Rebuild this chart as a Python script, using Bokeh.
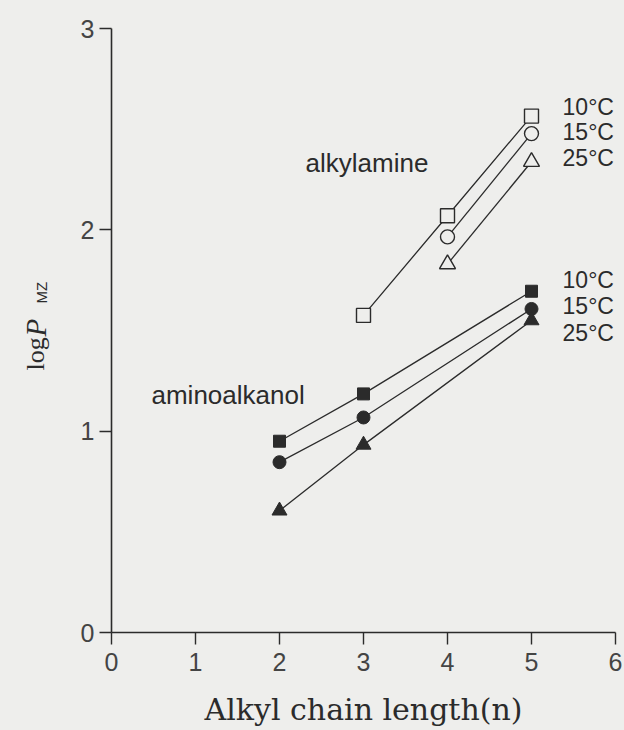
import math
from bokeh.plotting import figure
from bokeh.layouts import row
from bokeh.models import Label, Range1d, FixedTicker
from bokeh.embed import file_html
from bokeh.resources import INLINE

# ---- data ----
n_amine_10 = [3, 4, 5]
amine_10 = [1.575, 2.07, 2.565]
n_amine_15 = [4, 5]
amine_15 = [1.965, 2.478]
n_amine_25 = [4, 5]
amine_25 = [1.83, 2.338]

n_alkanol = [2, 3, 5]
alkanol_10 = [0.95, 1.185, 1.695]
alkanol_15 = [0.846, 1.068, 1.607]
alkanol_25 = [0.605, 0.932, 1.55]

x_ticks = [0, 1, 2, 3, 4, 5, 6]
y_ticks = [0, 1, 2, 3]
temp_labels = ["10°C", "15°C", "25°C"]

bg = "#eeeeec"
ink = "#2b2b2b"
LEFT_W = 60
H = 730
TOP, BOTTOM = 28, 98

# ---- main chart ----
p = figure(width=624 - LEFT_W, height=H, output_backend="svg", toolbar_location=None,
           x_range=Range1d(0, 6), y_range=Range1d(0, 3),
           min_border_left=111 - LEFT_W, min_border_right=9, min_border_top=TOP,
           min_border_bottom=BOTTOM)
p.outline_line_color = None
p.grid.visible = False
p.background_fill_color = bg
p.border_fill_color = bg

p.xaxis.ticker = FixedTicker(ticks=x_ticks)
p.yaxis.ticker = FixedTicker(ticks=y_ticks)
for ax in (p.xaxis, p.yaxis):
    ax.major_tick_out = 12
    ax.major_tick_in = 0
    ax.minor_tick_out = 0
    ax.minor_tick_in = 0
    ax.axis_line_width = 1.6
    ax.axis_line_color = ink
    ax.major_tick_line_color = ink
    ax.major_tick_line_width = 1.4
    ax.major_label_text_font = "Liberation Sans"
    ax.major_label_text_font_size = "25px"
    ax.major_label_text_color = "#444444"
p.xaxis.major_label_standoff = 8
p.yaxis.major_label_standoff = 5

p.xaxis.axis_label = "Alkyl chain length(n)"
p.xaxis.axis_label_text_font = "DejaVu Serif"
p.xaxis.axis_label_text_font_style = "normal"
p.xaxis.axis_label_text_font_size = "30px"
p.xaxis.axis_label_text_color = ink
p.xaxis.axis_label_standoff = 18

line_kw = dict(line_color=ink, line_width=1.3)
open_kw = dict(line_color=ink, line_width=1.4, fill_color=bg)
fill_kw = dict(line_color=ink, line_width=1, fill_color=ink)

# alkylamine (open symbols)
p.line(n_amine_10, amine_10, **line_kw)
p.line(n_amine_15, amine_15, **line_kw)
p.line(n_amine_25, amine_25, **line_kw)
p.scatter(n_amine_10, amine_10, marker="square", size=14, **open_kw)
p.scatter(n_amine_15, amine_15, marker="circle", size=14, **open_kw)
p.scatter(n_amine_25, amine_25, marker="triangle", size=16, **open_kw)

# aminoalkanol (filled symbols)
p.line(n_alkanol, alkanol_10, **line_kw)
p.line(n_alkanol, alkanol_15, **line_kw)
p.line(n_alkanol, alkanol_25, **line_kw)
p.scatter(n_alkanol, alkanol_10, marker="square", size=12, **fill_kw)
p.scatter(n_alkanol, alkanol_15, marker="circle", size=13, **fill_kw)
p.scatter(n_alkanol, alkanol_25, marker="triangle", size=15, **fill_kw)


def lab(fig, x, y, text, size, font="Liberation Sans", style="normal", angle=0.0):
    fig.add_layout(Label(x=x, y=y, text=text, text_font=font, text_font_size=size,
                         text_font_style=style, text_color=ink, angle=angle,
                         text_align="left", text_baseline="alphabetic"))


lab(p, 2.31, 2.332, "alkylamine", "26px")
lab(p, 0.476, 1.181, "aminoalkanol", "26px")
for t, yy in zip(temp_labels, [2.611, 2.486, 2.357]):
    lab(p, 5.37, yy, t, "23px")
for t, yy in zip(temp_labels, [1.749, 1.624, 1.490]):
    lab(p, 5.37, yy, t, "23px")

# ---- narrow strip holding the y-axis title: log P_MZ ----
# its frame is aligned with the main frame by the row, so map page pixels directly
ly = figure(width=LEFT_W, height=H, output_backend="svg", toolbar_location=None,
            x_range=Range1d(0, LEFT_W), y_range=Range1d(BOTTOM, H - TOP),
            x_axis_location=None, y_axis_location=None,
            min_border_left=0, min_border_right=0, min_border_top=TOP,
            min_border_bottom=BOTTOM)
ly.outline_line_color = None
ly.grid.visible = False
ly.background_fill_color = bg
ly.border_fill_color = bg

up = math.pi / 2
lab(ly, 35, H - 370, "log", "26px", font="Liberation Serif", angle=up)
lab(ly, 35, H - 336, "P", "29px", font="Liberation Serif", style="italic", angle=up)
lab(ly, 41, H - 303, "MZ", "15px", font="Liberation Sans", angle=up)

layout = row(ly, p, styles={"background-color": bg})
open("out.html", "w").write(file_html(layout, INLINE))
